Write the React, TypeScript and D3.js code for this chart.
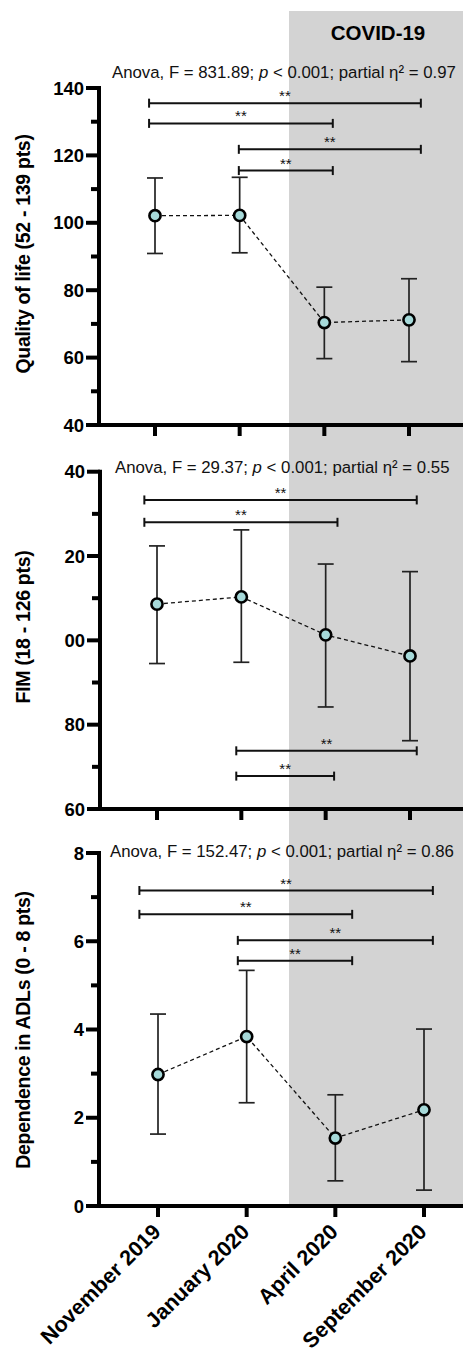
import * as d3 from "d3";
import React from "react";

// time points
const visits = ["November 2019", "January 2020", "April 2020", "September 2020"];

// Quality of life (52 - 139 pts)
const qolMean = [102.1, 102.2, 70.4, 71.2];
const qolLow = [90.9, 91.1, 59.7, 58.8];
const qolHigh = [113.3, 113.5, 80.9, 83.4];
// brackets: [from index, to index, y value]
const qolBrackets = [[-0.07, 3.14, 135.5], [-0.07, 2.1, 129.5], [0.99, 3.14, 121.8], [0.99, 2.1, 115.5]];

// FIM (18 - 126 pts)
const fimMean = [108.6, 110.3, 101.3, 96.3];
const fimLow = [94.5, 94.8, 84.2, 76.2];
const fimHigh = [122.4, 126.2, 118.1, 116.3];
const fimBrackets = [[-0.15, 3.08, 133.3], [-0.15, 2.14, 128.0], [0.94, 3.08, 73.8], [0.94, 2.1, 67.8]];

// Dependence in ADLs (0 - 8 pts)
const adlMean = [2.98, 3.84, 1.54, 2.18];
const adlLow = [1.63, 2.34, 0.57, 0.36];
const adlHigh = [4.35, 5.34, 2.52, 4.01];
const adlBrackets = [[-0.21, 3.1, 7.15], [-0.21, 2.19, 6.61], [0.9, 3.1, 6.02], [0.9, 2.19, 5.56]];

const anovaF = ["831.89", "29.37", "152.47"];
const anovaEta = ["0.97", "0.55", "0.86"];
const yTitles = ["Quality of life (52 - 139 pts)", "FIM (18 - 126 pts)", "Dependence in ADLs (0 - 8 pts)"];

const font = "'Liberation Sans', Arial, Helvetica, sans-serif";
const W = 463, H = 1355;

const panels = [
  { mean: qolMean, low: qolLow, high: qolHigh, br: qolBrackets, dom: [40, 140], rng: [425, 88], xr: [155, 409], ax: 99, major: 20, minor: 10, titleY: 254, anovaX: 112, anovaY: 78, fmt: (d: number) => String(d) },
  { mean: fimMean, low: fimLow, high: fimHigh, br: fimBrackets, dom: [60, 140], rng: [809, 471.7], xr: [157, 410], ax: 100, major: 20, minor: 10, titleY: 627, anovaX: 115, anovaY: 473, fmt: (d: number) => (d >= 100 ? String(d).slice(1) : String(d)) },
  { mean: adlMean, low: adlLow, high: adlHigh, br: adlBrackets, dom: [0, 8], rng: [1206, 853], xr: [158, 424], ax: 99, major: 2, minor: 1, titleY: 1030, anovaX: 110, anovaY: 857, fmt: (d: number) => String(d) },
];

const Panel = ({ p, i, last }: any) => {
  const y = d3.scaleLinear().domain(p.dom).range(p.rng);
  const x = d3.scaleLinear().domain([0, 3]).range(p.xr);
  const majors = d3.range(p.dom[0], p.dom[1] + 0.001, p.major);
  const minors = d3.range(p.dom[0] + p.minor, p.dom[1], p.major);
  const base = y(p.dom[0]);
  const line = d3.line<number>().x((_, k) => x(k)).y((d) => y(d));
  return (
    <g>
      {/* significance brackets */}
      {p.br.map((b: number[], k: number) => {
        const x1 = x(b[0]), x2 = x(b[1]), yy = y(b[2]);
        return (
          <g key={k} stroke="#111" strokeWidth={2}>
            <line x1={x1} x2={x2} y1={yy} y2={yy} />
            <line x1={x1} x2={x1} y1={yy - 4.5} y2={yy + 4.5} />
            <line x1={x2} x2={x2} y1={yy - 4.5} y2={yy + 4.5} />
            <text x={(x1 + x2) / 2} y={yy - 2} stroke="none" fill="#111" fontSize={15} textAnchor="middle" fontFamily={font}>**</text>
          </g>
        );
      })}
      {/* error bars */}
      {p.mean.map((_: number, k: number) => (
        <g key={k} stroke="#222" strokeWidth={1.7}>
          <line x1={x(k)} x2={x(k)} y1={y(p.low[k])} y2={y(p.high[k])} />
          <line x1={x(k) - 8} x2={x(k) + 8} y1={y(p.low[k])} y2={y(p.low[k])} />
          <line x1={x(k) - 8} x2={x(k) + 8} y1={y(p.high[k])} y2={y(p.high[k])} />
        </g>
      ))}
      <path d={line(p.mean) || ""} fill="none" stroke="#111" strokeWidth={1.3} strokeDasharray="4,3" />
      {p.mean.map((d: number, k: number) => (
        <circle key={k} cx={x(k)} cy={y(d)} r={5.6} fill="#a6d9d9" stroke="#000" strokeWidth={2.6} />
      ))}
      {/* y axis */}
      <line x1={p.ax} x2={p.ax} y1={y(p.dom[1]) - 2} y2={base + 2} stroke="#000" strokeWidth={4} />
      {majors.map((d: number) => (
        <g key={"M" + d}>
          <line x1={p.ax - 13} x2={p.ax} y1={y(d)} y2={y(d)} stroke="#000" strokeWidth={4} />
          <text x={p.ax - 15} y={y(d)} dy="0.36em" textAnchor="end" fontSize={18.5} fontWeight="bold" fontFamily={font}>{p.fmt(d)}</text>
        </g>
      ))}
      {minors.map((d: number) => (
        <line key={"m" + d} x1={p.ax - 8} x2={p.ax} y1={y(d)} y2={y(d)} stroke="#000" strokeWidth={4} />
      ))}
      {/* x axis */}
      <line x1={p.ax - 2} x2={W} y1={base} y2={base} stroke="#000" strokeWidth={4} />
      {visits.map((v, k) => (
        <g key={v}>
          <line x1={x(k)} x2={x(k)} y1={base} y2={base + 11} stroke="#000" strokeWidth={4} />
          {last && (
            <text transform={`translate(${x(k) + 4},${base + 27}) rotate(-45)`} textAnchor="end" fontSize={21.5} fontWeight="bold" fontFamily={font}>{v}</text>
          )}
        </g>
      ))}
      <text transform={`translate(30,${p.titleY}) rotate(-90)`} textAnchor="middle" fontSize={19.5} fontWeight="bold" letterSpacing={-0.3} fontFamily={font}>{yTitles[i]}</text>
      <text x={p.anovaX} y={p.anovaY} fontSize={16.8} fontFamily={font} fill="#111">
        {`Anova, F = ${anovaF[i]}; `}
        <tspan fontStyle="italic">p</tspan>
        {` < 0.001; partial η² = ${anovaEta[i]}`}
      </text>
    </g>
  );
};

export default function App() {
  return (
    <svg width={W} height={H} style={{ position: "absolute", left: 0, top: 0, background: "#fff" }}>
      <rect x={289} y={11} width={W - 289} height={1206 - 11} fill="#d3d3d3" />
      <text x={378} y={40} textAnchor="middle" fontSize={20.5} fontWeight="bold" fontFamily={font}>COVID-19</text>
      {panels.map((p, i) => (
        <Panel key={i} p={p} i={i} last={i === panels.length - 1} />
      ))}
    </svg>
  );
}
